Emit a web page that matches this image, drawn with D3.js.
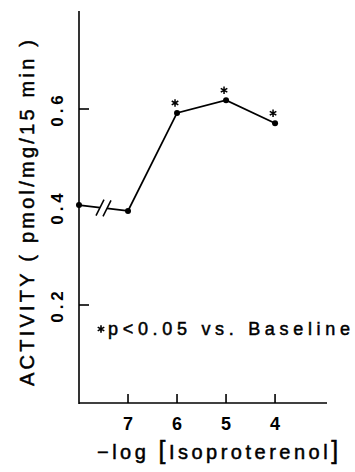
<!DOCTYPE html>
<html>
<head>
<meta charset="utf-8">
<script src="https://cdn.jsdelivr.net/npm/d3@7"></script>
<style>
  body { margin: 0; background: #fff; }
  text { font-family: "Liberation Sans", Arial, sans-serif; fill: #000; }
</style>
</head>
<body>
<div id="chart"></div>
<script>
var W = 355, H = 472;

// data
var doses = [7, 6, 5, 4];
var doseLabels = ["7", "6", "5", "4"];
var baseline = 0.404;
var activity = [0.392, 0.592, 0.618, 0.571];
var significant = [false, true, true, true];
var yTicks = [0.2, 0.4, 0.6];

var svg = d3.select("#chart").append("svg")
	.attr("width", W)
	.attr("height", H);

var x = d3.scaleLinear().domain([8, 2.94]).range([79, 327]);
var y = d3.scaleLinear().domain([0, 0.8]).range([403, 11]);

//////// axes
svg.append("line")
	.attr("x1", x(8)).attr("x2", x(8))
	.attr("y1", y(0.8)).attr("y2", y(0) + 1)
	.attr("stroke", "#000").attr("stroke-width", 1.6);

svg.append("line")
	.attr("x1", x(8)).attr("x2", x(2.94))
	.attr("y1", y(0)).attr("y2", y(0))
	.attr("stroke", "#000").attr("stroke-width", 1.6);

svg.selectAll(".ytick")
	.data(yTicks.filter(d => d != 0.4))
	.enter().append("line")
	.attr("x1", x(8)).attr("x2", x(8) + 10)
	.attr("y1", d => y(d)).attr("y2", d => y(d))
	.attr("stroke", "#000").attr("stroke-width", 1.6);

svg.selectAll(".ylab")
	.data(yTicks)
	.enter().append("text")
	.attr("transform", d => "translate(63," + y(d) + ") rotate(-90)")
	.attr("text-anchor", "middle")
	.style("font-size", "17px")
	.style("font-weight", "bold")
	.style("letter-spacing", "4px")
	.text(d => d.toFixed(1));

svg.selectAll(".xtick")
	.data(doses)
	.enter().append("line")
	.attr("x1", d => x(d)).attr("x2", d => x(d))
	.attr("y1", y(0)).attr("y2", y(0) - 9)
	.attr("stroke", "#000").attr("stroke-width", 1.6);

svg.selectAll(".xlab")
	.data(doses)
	.enter().append("text")
	.attr("x", d => x(d))
	.attr("y", 430)
	.attr("text-anchor", "middle")
	.style("font-size", "18px")
	.style("font-weight", "bold")
	.text((d, i) => doseLabels[i]);

//////// titles
svg.append("text")
	.attr("transform", "translate(34,386) rotate(-90)")
	.attr("textLength", 346)
	.attr("lengthAdjust", "spacing")
	.style("font-size", "20px")
	.style("stroke", "#000").style("stroke-width", 0.5)
	.text("ACTIVITY ( pmol/mg/15 min )");

var xt = svg.append("text")
	.attr("x", 97)
	.attr("y", 459)
	.style("font-size", "20px")
	.style("letter-spacing", "3.5px")
	.style("stroke", "#000").style("stroke-width", 0.5);
xt.append("tspan").text("\u2212log ");
xt.append("tspan").style("font-size", "25px").text("[");
xt.append("tspan").text("Isoproterenol");
xt.append("tspan").style("font-size", "25px").text("]");

svg.append("path")
	.attr("d", d3.symbol(d3.symbolAsterisk, 40)())
	.attr("transform", "translate(101,329)")
	.attr("fill", "none")
	.attr("stroke", "#000")
	.attr("stroke-width", 1.6);

svg.append("text")
	.attr("x", 108)
	.attr("y", 335)
	.attr("textLength", 242)
	.attr("lengthAdjust", "spacing")
	.style("font-size", "18px")
	.style("stroke", "#000").style("stroke-width", 0.5)
	.text("p<0.05 vs. Baseline");

//////// data line with axis break
var bx = x(8), by = y(baseline);
var p7x = x(doses[0]), p7y = y(activity[0]);
var slope = (p7y - by) / (p7x - bx);
var gapL = 100, gapR = 107;

svg.append("line")
	.attr("x1", bx).attr("y1", by)
	.attr("x2", gapL).attr("y2", by + slope * (gapL - bx))
	.attr("stroke", "#000").attr("stroke-width", 1.8);
svg.append("line")
	.attr("x1", gapR).attr("y1", by + slope * (gapR - bx))
	.attr("x2", p7x).attr("y2", p7y)
	.attr("stroke", "#000").attr("stroke-width", 1.8);

[gapL, gapR].forEach(function(gx) {
	var gy = by + slope * (gx - bx);
	svg.append("line")
		.attr("x1", gx - 4).attr("y1", gy + 8)
		.attr("x2", gx + 4).attr("y2", gy - 8)
		.attr("stroke", "#000").attr("stroke-width", 1.6);
});

var line = d3.line()
	.x(d => x(d.dose))
	.y(d => y(d.value));

var pts = doses.map((d, i) => ({dose: d, value: activity[i], sig: significant[i]}));

svg.append("path")
	.datum(pts)
	.attr("d", line)
	.attr("fill", "none")
	.attr("stroke", "#000")
	.attr("stroke-width", 1.8);

svg.append("circle")
	.attr("cx", bx).attr("cy", by).attr("r", 3).attr("fill", "#000");

svg.selectAll(".pt")
	.data(pts)
	.enter().append("circle")
	.attr("cx", d => x(d.dose))
	.attr("cy", d => y(d.value))
	.attr("r", 3)
	.attr("fill", "#000");

svg.selectAll(".star")
	.data(pts.filter(d => d.sig))
	.enter().append("path")
	.attr("d", d3.symbol(d3.symbolAsterisk, 40)())
	.attr("transform", d => "translate(" + (x(d.dose) - 2) + "," + (y(d.value) - 10) + ")")
	.attr("fill", "none")
	.attr("stroke", "#000")
	.attr("stroke-width", 1.5);
</script>
</body>
</html>
